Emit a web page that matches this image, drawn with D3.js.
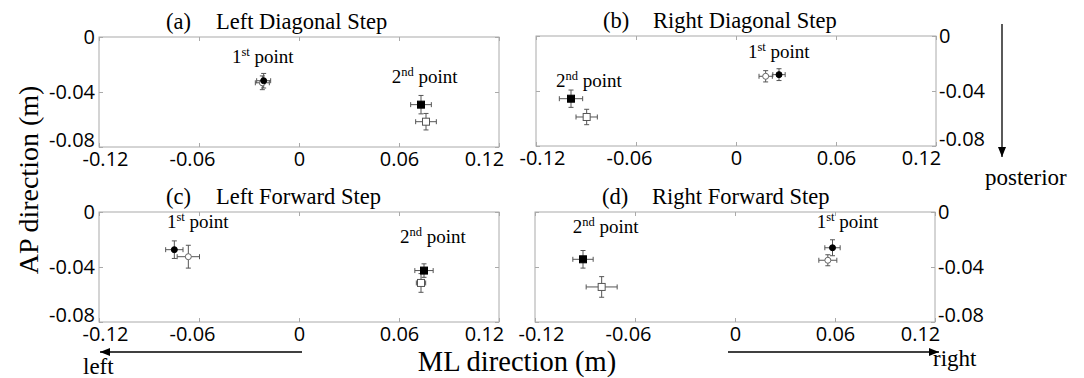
<!DOCTYPE html>
<html>
<head>
<meta charset="utf-8">
<script src="https://cdn.jsdelivr.net/npm/d3@7"></script>
<style>
  body { margin: 0; background: #fff; }
  .tick-label { font-family: "Open Sans", sans-serif; font-size: 20px; fill: #000; }
  .serif { font-family: "Liberation Serif", "Times New Roman", serif; fill: #000; }
</style>
</head>
<body>
<script>
// ---- data (metres) ----
const panelIds = ["(a)", "(b)", "(c)", "(d)"];
const panelTitles = ["Left Diagonal Step", "Right Diagonal Step", "Left Forward Step", "Right Forward Step"];
const xTicks = [-0.12, -0.06, 0, 0.06, 0.12];
const yTicks = [0, -0.04, -0.08];

// each entry: point, style, mean ML (x), mean AP (y), sd x, sd y
const leftDiagonal = [
  { point: 1, style: "openCircle",   x: -0.022,  y: -0.0333, xe: 0.0042, ye: 0.0050 },
  { point: 1, style: "filledCircle", x: -0.0212, y: -0.0318, xe: 0.0042, ye: 0.0053 },
  { point: 2, style: "openSquare",   x: 0.0762,  y: -0.0616, xe: 0.0062, ye: 0.0060 },
  { point: 2, style: "filledSquare", x: 0.0732,  y: -0.0492, xe: 0.0062, ye: 0.0067 }
];
const rightDiagonal = [
  { point: 1, style: "openCircle",   x: 0.0178,  y: -0.0293, xe: 0.0040, ye: 0.0041 },
  { point: 1, style: "filledCircle", x: 0.0258,  y: -0.0281, xe: 0.0037, ye: 0.0043 },
  { point: 2, style: "openSquare",   x: -0.0896, y: -0.0589, xe: 0.0064, ye: 0.0056 },
  { point: 2, style: "filledSquare", x: -0.099,  y: -0.0456, xe: 0.0070, ye: 0.0063 }
];
const leftForward = [
  { point: 1, style: "openCircle",   x: -0.0664, y: -0.0325, xe: 0.0067, ye: 0.0083 },
  { point: 1, style: "filledCircle", x: -0.0748, y: -0.0274, xe: 0.0052, ye: 0.0064 },
  { point: 2, style: "openSquare",   x: 0.0732,  y: -0.0516, xe: 0.0028, ye: 0.0068 },
  { point: 2, style: "filledSquare", x: 0.075,   y: -0.0426, xe: 0.0055, ye: 0.0049 }
];
const rightForward = [
  { point: 1, style: "openCircle",   x: 0.0557,  y: -0.0351, xe: 0.0054, ye: 0.0040 },
  { point: 1, style: "filledCircle", x: 0.0585,  y: -0.026,  xe: 0.0046, ye: 0.0058 },
  { point: 2, style: "openSquare",   x: -0.080,  y: -0.0545, xe: 0.0093, ye: 0.0075 },
  { point: 2, style: "filledSquare", x: -0.0912, y: -0.0344, xe: 0.0061, ye: 0.0064 }
];
const panelData = [leftDiagonal, rightDiagonal, leftForward, rightForward];

// where the "1st point" / "2nd point" labels start (data units)
const firstLabelX = [-0.0402, 0.0072, -0.0792, 0.049];
const firstLabelY = [-0.0189, -0.0159, -0.0117, -0.0116];
const secondLabelX = [0.0556, -0.108, 0.0606, -0.0973];
const secondLabelY = [-0.0335, -0.0368, -0.0228, -0.0153];

// ---- layout ----
const W = 1084, H = 378;
const panelLeft = [99, 536, 99, 535];
const panelTop = [37, 36, 212, 212];
const panelW = 400, panelH = 110;
const axisGrey = "#aaa";
const barGrey = "#555";

const svg = d3.select("body").append("svg")
  .attr("width", W)
  .attr("height", H);

const defs = svg.append("defs");
defs.append("marker")
  .attr("id", "head")
  .attr("viewBox", "0 0 10 8")
  .attr("refX", 10)
  .attr("refY", 4)
  .attr("markerWidth", 10)
  .attr("markerHeight", 8)
  .attr("markerUnits", "userSpaceOnUse")
  .attr("orient", "auto")
  .append("path")
  .attr("d", "M0,0 L10,4 L0,8 Z")
  .attr("fill", "#000");

const fmt = d => String(d);
// end labels are pulled inside the frame, like the original plot
const xLabelShift = d => d === -0.12 ? 6 : d === 0.12 ? -15 : d === -0.06 ? -7 : 0;

panelData.forEach((data, i) => {
  const rightSide = i % 2 === 1;
  const g = svg.append("g")
    .attr("transform", "translate(" + panelLeft[i] + "," + panelTop[i] + ")");

  const x = d3.scaleLinear().domain([-0.12, 0.12]).range([0, panelW]);
  const y = d3.scaleLinear().domain([-0.08, 0]).range([panelH, 0]);

  // frame
  g.append("rect")
    .attr("width", panelW)
    .attr("height", panelH)
    .attr("fill", "none")
    .attr("stroke", axisGrey)
    .attr("stroke-width", 1);

  // axes, ticks pointing inward
  const xAxis = g.append("g")
    .attr("transform", "translate(0," + panelH + ")")
    .call(d3.axisBottom(x).tickValues(xTicks).tickFormat(fmt).tickSize(-4).tickPadding(5));
  g.append("g")
    .call(d3.axisTop(x).tickValues(xTicks).tickFormat("").tickSize(-4));

  const labelAxis = rightSide
    ? d3.axisRight(y).tickValues(yTicks).tickFormat(fmt).tickSize(-4).tickPadding(3)
    : d3.axisLeft(y).tickValues(yTicks).tickFormat(fmt).tickSize(-4).tickPadding(4);
  const plainAxis = rightSide
    ? d3.axisLeft(y).tickValues(yTicks).tickFormat("").tickSize(-4)
    : d3.axisRight(y).tickValues(yTicks).tickFormat("").tickSize(-4);

  const yAxis = g.append("g")
    .attr("transform", rightSide ? "translate(" + panelW + ",0)" : null)
    .call(labelAxis);
  g.append("g")
    .attr("transform", rightSide ? null : "translate(" + panelW + ",0)")
    .call(plainAxis);

  g.selectAll(".domain").remove();
  g.selectAll(".tick line").attr("stroke", axisGrey);
  xAxis.selectAll("text").attr("class", "tick-label").attr("font-family", null).attr("font-size", null)
    .attr("dx", xLabelShift);
  yAxis.selectAll("text").attr("class", "tick-label").attr("font-family", null).attr("font-size", null)
    .attr("dy", d => d === -0.08 ? "-0.05em" : "0.32em");

  // title
  svg.append("text")
    .attr("class", "serif")
    .attr("x", panelLeft[i] + 67)
    .attr("y", panelTop[i] - 8)
    .attr("font-size", 22.5)
    .text(panelIds[i]);
  svg.append("text")
    .attr("class", "serif")
    .attr("x", panelLeft[i] + 117)
    .attr("y", panelTop[i] - 8)
    .attr("font-size", 22.5)
    .text(panelTitles[i]);

  // point labels
  const labels = [
    { lx: firstLabelX[i], ly: firstLabelY[i], n: "1", sup: "st" },
    { lx: secondLabelX[i], ly: secondLabelY[i], n: "2", sup: "nd" }
  ];
  labels.forEach(l => {
    const t = g.append("text")
      .attr("class", "serif")
      .attr("x", x(l.lx))
      .attr("y", y(l.ly))
      .attr("font-size", 19);
    t.append("tspan").text(l.n);
    t.append("tspan").attr("font-size", 12.5).attr("dy", -7).text(l.sup);
    t.append("tspan").attr("dy", 7).text(" point");
  });

  // error bars
  const cap = 2.5;
  const bars = g.selectAll("g.err")
    .data(data)
    .enter().append("g")
    .attr("class", "err")
    .attr("stroke", barGrey)
    .attr("stroke-width", 1)
    .attr("fill", "none");

  bars.append("line")
    .attr("x1", d => x(d.x - d.xe)).attr("x2", d => x(d.x + d.xe))
    .attr("y1", d => y(d.y)).attr("y2", d => y(d.y));
  bars.append("line")
    .attr("x1", d => x(d.x)).attr("x2", d => x(d.x))
    .attr("y1", d => y(d.y - d.ye)).attr("y2", d => y(d.y + d.ye));
  [-1, 1].forEach(s => {
    bars.append("line")
      .attr("x1", d => x(d.x + s * d.xe)).attr("x2", d => x(d.x + s * d.xe))
      .attr("y1", d => y(d.y) - cap).attr("y2", d => y(d.y) + cap);
    bars.append("line")
      .attr("x1", d => x(d.x) - cap).attr("x2", d => x(d.x) + cap)
      .attr("y1", d => y(d.y + s * d.ye)).attr("y2", d => y(d.y + s * d.ye));
  });

  // markers
  g.selectAll("circle.mark")
    .data(data.filter(d => d.style.endsWith("Circle")))
    .enter().append("circle")
    .attr("class", "mark")
    .attr("cx", d => x(d.x))
    .attr("cy", d => y(d.y))
    .attr("r", 3)
    .attr("fill", d => d.style === "filledCircle" ? "#000" : "#fff")
    .attr("stroke", d => d.style === "filledCircle" ? "#000" : "#666")
    .attr("stroke-width", 1);

  const sq = 7;
  g.selectAll("rect.mark")
    .data(data.filter(d => d.style.endsWith("Square")))
    .enter().append("rect")
    .attr("class", "mark")
    .attr("x", d => x(d.x) - sq / 2)
    .attr("y", d => y(d.y) - sq / 2)
    .attr("width", sq)
    .attr("height", sq)
    .attr("fill", d => d.style === "filledSquare" ? "#000" : "#fff")
    .attr("stroke", d => d.style === "filledSquare" ? "#000" : "#555")
    .attr("stroke-width", 1);
});

// axis titles
svg.append("text")
  .attr("class", "serif")
  .attr("transform", "translate(38,180) rotate(-90)")
  .attr("text-anchor", "middle")
  .attr("font-size", 28)
  .text("AP direction (m)");

svg.append("text")
  .attr("class", "serif")
  .attr("x", 517)
  .attr("y", 371)
  .attr("text-anchor", "middle")
  .attr("font-size", 28.5)
  .text("ML direction (m)");

// direction arrows
const arrows = [
  { x1: 302, y1: 352, x2: 100, y2: 352 },
  { x1: 728, y1: 352, x2: 939, y2: 352 },
  { x1: 1002, y1: 24, x2: 1002, y2: 157 }
];
svg.selectAll("line.arrow")
  .data(arrows)
  .enter().append("line")
  .attr("class", "arrow")
  .attr("x1", d => d.x1).attr("y1", d => d.y1)
  .attr("x2", d => d.x2).attr("y2", d => d.y2)
  .attr("stroke", "#000")
  .attr("stroke-width", 1.3)
  .attr("marker-end", "url(#head)");

svg.append("text").attr("class", "serif").attr("font-size", 23)
  .attr("x", 83).attr("y", 374).text("left");
svg.append("text").attr("class", "serif").attr("font-size", 23)
  .attr("x", 933).attr("y", 366).text("right");
svg.append("text").attr("class", "serif").attr("font-size", 23)
  .attr("x", 985).attr("y", 185).text("posterior");
</script>
</body>
</html>
